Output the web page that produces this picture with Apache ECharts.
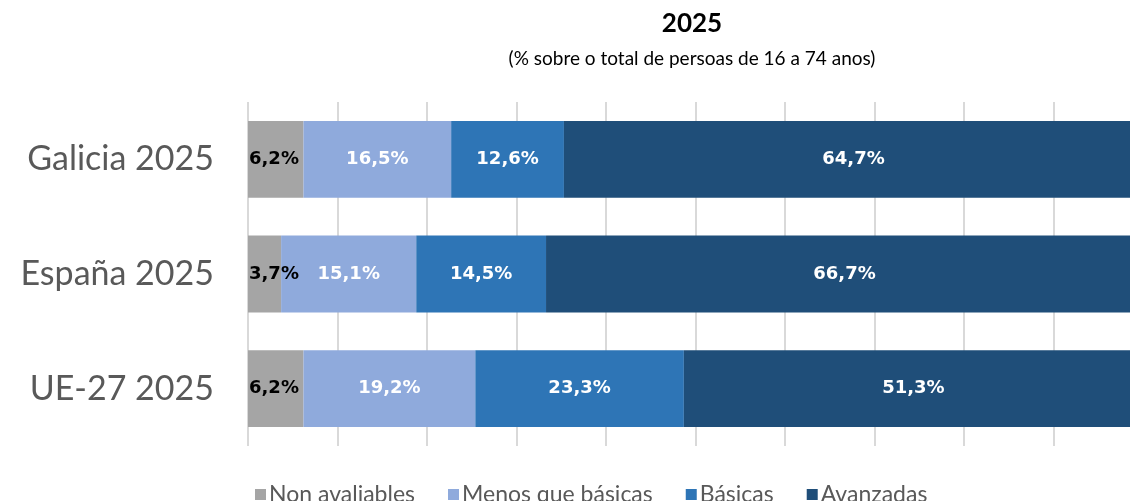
<!DOCTYPE html>
<html>
<head>
<meta charset="utf-8">
<script src="https://cdn.jsdelivr.net/npm/echarts@6/dist/echarts.min.js"></script>
<style>
html,body{margin:0;padding:0;background:#fff;}
#chart{width:1130px;height:501px;}
</style>
</head>
<body>
<div id="chart"></div>
<script>
var categories = ['Galicia 2025', 'España 2025', 'UE-27 2025'];
var seriesNames = ['Non avaliables', 'Menos que básicas', 'Básicas', 'Avanzadas'];
var nonAvaliables = [6.2, 3.7, 6.2];
var menosQueBasicas = [16.5, 15.1, 19.2];
var basicas = [12.6, 14.5, 23.3];
var avanzadas = [64.7, 66.7, 51.3];
var colors = ['#a5a5a5', '#8faadc', '#2e75b6', '#1f4e79'];
var labelColors = ['#000000', '#ffffff', '#ffffff', '#ffffff'];
var allValues = [nonAvaliables, menosQueBasicas, basicas, avanzadas];

var font = 'Lato, "Open Sans", sans-serif';
var labelFont = '"DejaVu Sans", sans-serif';
var chart = echarts.init(document.getElementById('chart'), null, {renderer: 'canvas'});
var series = seriesNames.map(function (name, i) {
  return {
    name: name,
    type: 'bar',
    stack: 'total',
    barWidth: '67%',
    data: allValues[i],
    itemStyle: {color: colors[i]},
    label: {
      show: true,
      position: i === 0 ? 'insideLeft' : 'inside',
      distance: 1,
      color: labelColors[i],
      fontFamily: labelFont,
      fontWeight: 'bold',
      fontSize: 18,
      formatter: function (p) { return p.value.toFixed(1).replace('.', ',') + '%'; }
    }
  };
});

chart.setOption({
  animation: false,
  title: [{
    text: '2025',
    left: 687,
    top: 6,
    textAlign: 'center',
    textStyle: {fontFamily: font, fontSize: 26, fontWeight: 'bold', color: '#000'}
  }, {
    text: '(% sobre o total de persoas de 16 a 74 anos)',
    left: 687,
    top: 44,
    textAlign: 'center',
    textStyle: {fontFamily: font, fontSize: 19, fontWeight: 'normal', color: '#000'}
  }],
  legend: {
    left: 250,
    top: 478,
    itemWidth: 11,
    itemHeight: 11,
    itemGap: 33,
    icon: 'rect',
    textStyle: {fontFamily: font, fontSize: 23, color: '#595959', padding: [0, 0, 0, -2]},
    data: seriesNames
  },
  grid: {left: 248, right: -13, top: 102, bottom: 55, containLabel: false, outerBoundsMode: 'none'},
  xAxis: {
    type: 'value',
    min: 0,
    max: 100,
    interval: 10,
    axisLabel: {show: false},
    axisLine: {show: false},
    axisTick: {show: false},
    splitLine: {show: true, lineStyle: {color: '#d9d9d9', width: 2}}
  },
  yAxis: {
    type: 'category',
    inverse: true,
    data: categories,
    axisLine: {show: false},
    axisTick: {show: false},
    axisLabel: {fontFamily: font, fontSize: 34, color: '#595959', margin: 34}
  },
  series: series
});
</script>
</body>
</html>
